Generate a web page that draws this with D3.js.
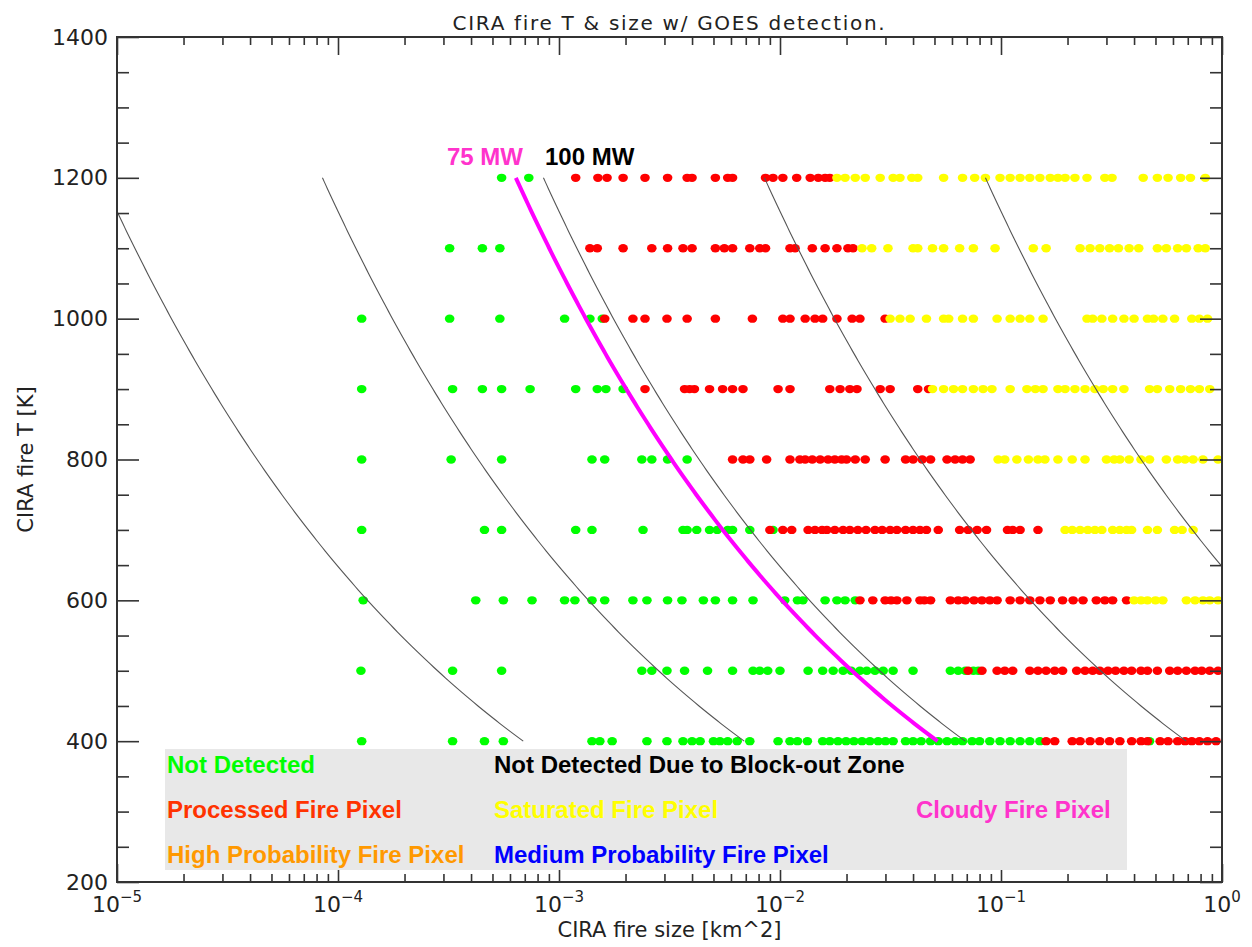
<!DOCTYPE html>
<html>
<head>
<meta charset="utf-8">
<script src="https://cdn.jsdelivr.net/npm/d3@7"></script>
<style>
  body { margin: 0; background: #fff; }
  text { font-family: "DejaVu Sans", sans-serif; }
</style>
</head>
<body>
<svg id="chart" width="1252" height="947"></svg>
<script>
// fire temperature rows [K]
const temps = [1200, 1100, 1000, 900, 800, 700, 600, 500, 400];

// fire sizes [km^2] per temperature row (same order as temps)
const notDetectedSizes = [
  [5.5e-4, 7.3e-4],
  [3.2e-4, 4.5e-4, 5.4e-4],
  [1.28e-4, 3.2e-4, 5.4e-4, 1.06e-3, 1.38e-3, 1.57e-3],
  [1.28e-4, 3.3e-4, 4.5e-4, 5.5e-4, 7.4e-4, 1.19e-3, 1.49e-3, 1.63e-3, 1.95e-3],
  [1.28e-4, 3.25e-4, 5.5e-4, 1.41e-3, 1.61e-3, 2.37e-3, 2.63e-3, 3.1e-3, 3.8e-3],
  [1.28e-4, 4.6e-4, 5.5e-4, 1.19e-3, 1.41e-3, 2.4e-3, 3.64e-3, 3.8e-3, 4.2e-3, 4.8e-3, 5.2e-3, 5.8e-3, 6.1e-3, 7.3e-3, 9.3e-3],
  [1.3e-4, 4.2e-4, 5.6e-4, 7.55e-4, 1.06e-3, 1.18e-3, 1.41e-3, 1.61e-3, 2.16e-3, 2.5e-3, 3.1e-3, 3.6e-3, 4.5e-3, 5.1e-3, 6.1e-3, 7.55e-3,
   1.05e-2, 1.2e-2, 1.27e-2, 1.6e-2, 1.81e-2, 1.97e-2, 2.19e-2],
  [1.27e-4, 3.3e-4, 5.5e-4, 2.37e-3, 2.63e-3, 3.08e-3, 3.7e-3, 4.7e-3, 6.1e-3, 7.55e-3, 8.1e-3, 8.8e-3, 1.0e-2, 1.34e-2, 1.56e-2,
   1.74e-2, 1.93e-2, 2.1e-2, 2.3e-2, 2.47e-2, 2.69e-2, 2.93e-2, 3.25e-2, 4.0e-2, 5.9e-2, 6.4e-2, 6.9e-2, 7.5e-2, 7.9e-2],
  [1.28e-4, 3.3e-4, 4.6e-4, 5.6e-4, 1.41e-3, 1.53e-3, 1.74e-3, 2.5e-3, 3.08e-3, 3.64e-3, 4.0e-3, 4.35e-3, 5.0e-3, 5.35e-3, 5.8e-3,
   6.4e-3, 7.3e-3, 9.8e-3, 1.11e-2, 1.2e-2, 1.33e-2, 1.56e-2, 1.68e-2, 1.83e-2, 1.99e-2, 2.16e-2, 2.35e-2, 2.55e-2, 2.78e-2, 3.0e-2,
   3.25e-2, 3.7e-2, 4.0e-2, 4.35e-2, 4.8e-2, 5.2e-2, 5.7e-2, 6.2e-2, 6.7e-2, 7.4e-2, 8.0e-2, 8.9e-2, 9.9e-2, 0.11, 0.122, 0.135, 0.15, 0.47]
];

const processedSizes = [
  [1.19e-3, 1.5e-3, 1.65e-3, 1.95e-3, 2.45e-3, 3.1e-3, 3.8e-3, 4.0e-3, 5.1e-3, 5.8e-3, 6.1e-3, 8.6e-3, 9.3e-3, 1.03e-2, 1.19e-2,
   1.37e-2, 1.49e-2, 1.6e-2, 1.68e-2],
  [1.38e-3, 1.49e-3, 1.95e-3, 2.63e-3, 3.1e-3, 3.64e-3, 4.0e-3, 5.1e-3, 5.6e-3, 6.1e-3, 7.3e-3, 8.1e-3, 8.6e-3, 1.11e-2, 1.17e-2,
   1.4e-2, 1.6e-2, 1.81e-2, 2.03e-2, 2.14e-2],
  [1.61e-3, 2.16e-3, 2.45e-3, 3.08e-3, 3.8e-3, 5.1e-3, 7.5e-3, 1.03e-2, 1.11e-2, 1.3e-2, 1.44e-2, 1.56e-2, 1.81e-2, 2.12e-2, 2.3e-2, 2.99e-2],
  [2.45e-3, 3.7e-3, 3.9e-3, 4.1e-3, 4.8e-3, 5.5e-3, 6.1e-3, 6.8e-3, 9.8e-3, 1.11e-2, 1.68e-2, 1.87e-2, 2.07e-2, 2.23e-2, 2.84e-2,
   3.15e-2, 4.2e-2, 4.7e-2],
  [6.1e-3, 6.8e-3, 7.3e-3, 8.7e-3, 1.11e-2, 1.23e-2, 1.3e-2, 1.4e-2, 1.52e-2, 1.65e-2, 1.77e-2, 1.9e-2, 2.0e-2, 2.19e-2, 2.43e-2,
   2.99e-2, 3.7e-2, 4.0e-2, 4.4e-2, 4.8e-2, 5.7e-2, 6.2e-2, 6.7e-2, 7.25e-2],
  [9.0e-3, 1.03e-2, 1.13e-2, 1.34e-2, 1.44e-2, 1.55e-2, 1.63e-2, 1.77e-2, 1.93e-2, 2.07e-2, 2.25e-2, 2.45e-2, 2.69e-2, 2.9e-2, 3.15e-2,
   3.38e-2, 3.7e-2, 4.0e-2, 4.3e-2, 4.6e-2, 5.2e-2, 6.5e-2, 7.1e-2, 7.8e-2, 8.6e-2, 0.107, 0.113, 0.122, 0.147],
  [2.3e-2, 2.63e-2, 2.99e-2, 3.18e-2, 3.38e-2, 3.75e-2, 4.3e-2, 4.5e-2, 4.8e-2, 5.9e-2, 6.4e-2, 6.9e-2, 7.55e-2, 8.2e-2, 8.9e-2,
   9.6e-2, 0.11, 0.122, 0.135, 0.15, 0.167, 0.19, 0.212, 0.235, 0.27, 0.295, 0.32, 0.37],
  [7.1e-2, 8.2e-2, 9.6e-2, 0.104, 0.113, 0.135, 0.147, 0.16, 0.175, 0.19, 0.22, 0.24, 0.26, 0.28, 0.305, 0.33, 0.36, 0.39, 0.43,
   0.46, 0.51, 0.58, 0.63, 0.69, 0.755, 0.81, 0.88, 0.96],
  [0.16, 0.175, 0.21, 0.228, 0.253, 0.28, 0.31, 0.345, 0.39, 0.43, 0.46, 0.525, 0.57, 0.63, 0.68, 0.73, 0.79, 0.86, 0.94]
];

const saturatedSizes = [
  [1.81e-2, 1.97e-2, 2.19e-2, 2.43e-2, 2.84e-2, 3.25e-2, 3.49e-2, 3.95e-2, 4.2e-2, 5.5e-2, 6.7e-2, 7.6e-2, 8.5e-2, 9.9e-2, 0.11,
   0.122, 0.135, 0.15, 0.167, 0.181, 0.195, 0.216, 0.245, 0.295, 0.318, 0.44, 0.51, 0.57, 0.65, 0.72, 0.84],
  [2.35e-2, 2.6e-2, 3.08e-2, 4.0e-2, 4.2e-2, 4.9e-2, 5.5e-2, 6.5e-2, 7.5e-2, 9.4e-2, 0.14, 0.16, 0.228, 0.253, 0.28, 0.31, 0.34,
   0.38, 0.42, 0.51, 0.56, 0.63, 0.69, 0.78, 0.84],
  [3.15e-2, 3.49e-2, 3.88e-2, 4.6e-2, 5.5e-2, 5.8e-2, 6.7e-2, 7.5e-2, 9.6e-2, 0.11, 0.122, 0.135, 0.155, 0.245, 0.26, 0.286, 0.32,
   0.36, 0.40, 0.46, 0.49, 0.54, 0.61, 0.73, 0.79, 0.86],
  [4.9e-2, 5.5e-2, 6.1e-2, 6.7e-2, 7.5e-2, 8.3e-2, 9.1e-2, 0.11, 0.131, 0.143, 0.155, 0.181, 0.195, 0.216, 0.24, 0.266, 0.29, 0.32,
   0.36, 0.47, 0.51, 0.58, 0.65, 0.72, 0.79, 0.88],
  [9.7e-2, 0.104, 0.118, 0.133, 0.147, 0.158, 0.181, 0.21, 0.24, 0.30, 0.325, 0.345, 0.38, 0.43, 0.47, 0.56, 0.63, 0.68, 0.74, 0.82, 0.96],
  [0.195, 0.21, 0.228, 0.247, 0.266, 0.286, 0.32, 0.345, 0.37, 0.39, 0.46, 0.51, 0.61, 0.66, 0.74],
  [0.40, 0.43, 0.46, 0.50, 0.54, 0.69, 0.755, 0.82, 0.88, 0.96],
  [],
  []
];

// constant fire radiative power lines [MW]
const powerLevelsMW = [1, 10, 75, 100, 1000, 10000];
const highlightMW = 75;

const xTickExponents = [-5, -4, -3, -2, -1, 0];
const yTickValues = [200, 400, 600, 800, 1000, 1200, 1400];

const legendRows = [
  [{ text: "Not Detected", color: "#00ff00" }, { text: "Not Detected Due to Block-out Zone", color: "#000000" }],
  [{ text: "Processed Fire Pixel", color: "#ff3300" }, { text: "Saturated Fire Pixel", color: "#ffff00" }, { text: "Cloudy Fire Pixel", color: "#ff33cc" }],
  [{ text: "High Probability Fire Pixel", color: "#ff9900" }, { text: "Medium Probability Fire Pixel", color: "#0000ff" }]
];

const width = 1252, height = 947;
const margin = { top: 37, right: 30, bottom: 65, left: 117 };
const x0 = margin.left, x1 = width - margin.right;
const y0 = height - margin.bottom, y1 = margin.top;

const svg = d3.select("#chart");

const x = d3.scaleLog().domain([1e-5, 1]).range([x0, x1]);
const y = d3.scaleLinear().domain([200, 1400]).range([y0, y1]);

svg.append("defs").append("clipPath").attr("id", "plotclip")
  .append("rect").attr("x", x0).attr("y", y1).attr("width", x1 - x0).attr("height", y0 - y1);

const plot = svg.append("g").attr("clip-path", "url(#plotclip)");

// detection points
const groups = [
  { sizes: notDetectedSizes, color: "#00ff00" },
  { sizes: processedSizes, color: "#ff0000" },
  { sizes: saturatedSizes, color: "#ffff00" }
];
groups.forEach(g => {
  const pts = [];
  g.sizes.forEach((row, i) => row.forEach(s => pts.push({ size: s, t: temps[i] })));
  plot.append("g").selectAll("ellipse").data(pts).join("ellipse")
    .attr("cx", d => x(d.size))
    .attr("cy", d => y(d.t))
    .attr("rx", 4.8)
    .attr("ry", 4.2)
    .attr("fill", g.color);
});

// iso-power curves: area = P / (sigma T^4)
const sigma = 5.67e-8;
const tGrid = d3.range(400, 1201, 5);
const line = d3.line().x(d => x(d.a)).y(d => y(d.t));
powerLevelsMW.forEach(p => {
  const pts = tGrid.map(t => ({ t: t, a: p * 1e6 / (sigma * Math.pow(t, 4)) / 1e6 }));
  const hi = p === highlightMW;
  plot.append("path")
    .datum(pts)
    .attr("d", line)
    .attr("fill", "none")
    .attr("stroke", hi ? "#ff00ff" : "#555")
    .attr("stroke-width", hi ? 4 : 1.1);
});

svg.append("text").attr("x", 447).attr("y", 165)
  .attr("font-size", 24).attr("font-weight", "bold").attr("fill", "#ff33cc")
  .style("font-family", "'Liberation Sans', Arial, sans-serif")
  .text(highlightMW + " MW");
svg.append("text").attr("x", 545).attr("y", 165)
  .attr("font-size", 24).attr("font-weight", "bold").attr("fill", "#000")
  .style("font-family", "'Liberation Sans', Arial, sans-serif")
  .text("100 MW");

// axes
const yMinor = d3.range(200, 1401, 50).filter(v => v % 200 !== 0);
const xMajor = xTickExponents.map(e => Math.pow(10, e));
const xMinor = [];
xTickExponents.slice(0, -1).forEach(e => {
  for (let m = 2; m <= 9; m++) xMinor.push(m * Math.pow(10, e));
});

function styleAxis(g) {
  g.select(".domain").remove();
  g.selectAll(".tick line").attr("stroke", "#333").attr("stroke-width", 1.6);
}

svg.append("g").attr("transform", `translate(${x0},0)`)
  .call(d3.axisLeft(y).tickValues(yTickValues).tickFormat(d3.format("d"))
    .tickSizeInner(-22).tickSizeOuter(0).tickPadding(9))
  .call(styleAxis)
  .call(g => g.selectAll("text").attr("font-size", 22).attr("fill", "#222")
    .style("font-family", "'DejaVu Sans', sans-serif"));
svg.append("g").attr("transform", `translate(${x0},0)`)
  .call(d3.axisLeft(y).tickValues(yMinor).tickSizeInner(-12).tickSizeOuter(0).tickFormat(""))
  .call(styleAxis);
svg.append("g").attr("transform", `translate(${x1},0)`)
  .call(d3.axisRight(y).tickValues(yTickValues).tickSizeInner(-22).tickSizeOuter(0).tickFormat(""))
  .call(styleAxis);
svg.append("g").attr("transform", `translate(${x1},0)`)
  .call(d3.axisRight(y).tickValues(yMinor).tickSizeInner(-12).tickSizeOuter(0).tickFormat(""))
  .call(styleAxis);

svg.append("g").attr("transform", `translate(0,${y0})`)
  .call(d3.axisBottom(x).tickValues(xMajor).tickSizeInner(-18).tickSizeOuter(0).tickFormat(""))
  .call(styleAxis);
svg.append("g").attr("transform", `translate(0,${y0})`)
  .call(d3.axisBottom(x).tickValues(xMinor).tickSizeInner(-8).tickSizeOuter(0).tickFormat(""))
  .call(styleAxis);
svg.append("g").attr("transform", `translate(0,${y1})`)
  .call(d3.axisTop(x).tickValues(xMajor).tickSizeInner(-18).tickSizeOuter(0).tickFormat(""))
  .call(styleAxis);
svg.append("g").attr("transform", `translate(0,${y1})`)
  .call(d3.axisTop(x).tickValues(xMinor).tickSizeInner(-8).tickSizeOuter(0).tickFormat(""))
  .call(styleAxis);

// x tick labels with superscript exponents
const xl = svg.append("g").selectAll("text").data(xTickExponents).join("text")
  .attr("x", e => x(Math.pow(10, e)))
  .attr("y", y0 + 30)
  .attr("text-anchor", "middle")
  .attr("font-size", 22)
  .attr("fill", "#222");
xl.append("tspan").text("10");
xl.append("tspan").attr("dy", -10).attr("font-size", 15)
  .text(e => (e < 0 ? "\u2212" : "") + Math.abs(e));

// frame
svg.append("rect").attr("x", x0).attr("y", y1).attr("width", x1 - x0).attr("height", y0 - y1)
  .attr("fill", "none").attr("stroke", "#333").attr("stroke-width", 2);

// legend box (drawn over the ticks, as in the original)
svg.append("rect").attr("x", 165).attr("y", 749).attr("width", 962).attr("height", 121)
  .attr("fill", "#e8e8e8");
const legendX = [167, 494, 916];
const legendY = [773, 818, 863];
legendRows.forEach((row, r) => {
  row.forEach((item, c) => {
    svg.append("text")
      .attr("x", legendX[c]).attr("y", legendY[r])
      .attr("font-size", 24).attr("font-weight", "bold")
      .style("font-family", "'Liberation Sans', Arial, sans-serif")
      .attr("fill", item.color)
      .text(item.text);
  });
});

// titles
svg.append("text").attr("x", (x0 + x1) / 2).attr("y", 30)
  .attr("text-anchor", "middle").attr("font-size", 20).attr("fill", "#222")
  .style("letter-spacing", "1.7px")
  .text("CIRA fire T & size w/ GOES detection.");
svg.append("text").attr("x", (x0 + x1) / 2).attr("y", 937)
  .attr("text-anchor", "middle").attr("font-size", 21).attr("fill", "#222")
  .text("CIRA fire size [km^2]");
svg.append("text")
  .attr("transform", `translate(33,${(y0 + y1) / 2}) rotate(-90)`)
  .attr("text-anchor", "middle").attr("font-size", 21).attr("fill", "#222")
  .text("CIRA fire T [K]");
</script>
</body>
</html>
